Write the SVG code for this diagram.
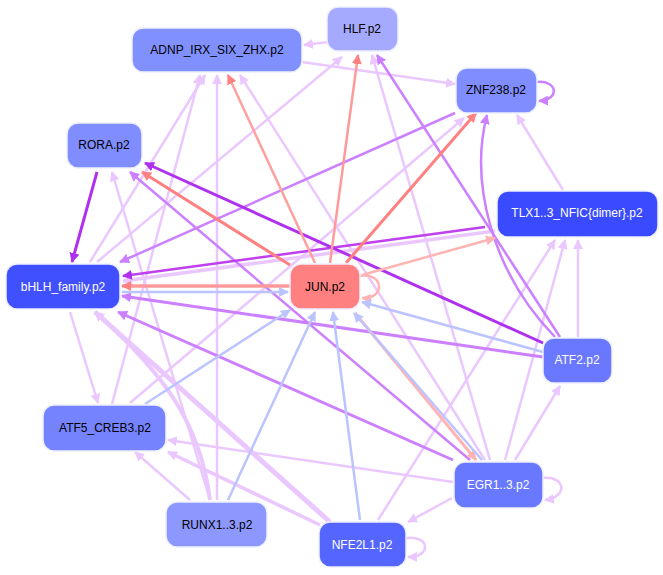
<svg xmlns="http://www.w3.org/2000/svg" width="663" height="575" viewBox="0 0 663 575">
<style>
.n rect{stroke:#eef0ff;stroke-width:1.5}
.n text{font-family:"Liberation Sans",Arial,sans-serif;font-size:12px;text-anchor:middle;dominant-baseline:central}
.w{fill:#fff}.k{fill:#000}
#e line,#e path{fill:none;stroke-width:2.5}
.L{stroke:#eac8ff}.V{stroke:#cc80ff}.S{stroke:#b030f0}.R{stroke:#ff8080}.P{stroke:#ffb4b4}.B{stroke:#bcc4ff}
</style>
<defs>
<marker id="mL" viewBox="0 0 10 10" refX="9" refY="5" markerWidth="10" markerHeight="10" markerUnits="userSpaceOnUse" orient="auto"><path d="M0,0L10,5L0,10z" fill="#eac8ff"/></marker>
<marker id="mV" viewBox="0 0 10 10" refX="9" refY="5" markerWidth="10" markerHeight="10" markerUnits="userSpaceOnUse" orient="auto"><path d="M0,0L10,5L0,10z" fill="#cc80ff"/></marker>
<marker id="mS" viewBox="0 0 10 10" refX="9" refY="5" markerWidth="10" markerHeight="10" markerUnits="userSpaceOnUse" orient="auto"><path d="M0,0L10,5L0,10z" fill="#b030f0"/></marker>
<marker id="mR" viewBox="0 0 10 10" refX="9" refY="5" markerWidth="10" markerHeight="10" markerUnits="userSpaceOnUse" orient="auto"><path d="M0,0L10,5L0,10z" fill="#ff8080"/></marker>
<marker id="mP" viewBox="0 0 10 10" refX="9" refY="5" markerWidth="10" markerHeight="10" markerUnits="userSpaceOnUse" orient="auto"><path d="M0,0L10,5L0,10z" fill="#ffb4b4"/></marker>
<marker id="mB" viewBox="0 0 10 10" refX="9" refY="5" markerWidth="10" markerHeight="10" markerUnits="userSpaceOnUse" orient="auto"><path d="M0,0L10,5L0,10z" fill="#bcc4ff"/></marker>
</defs>
<g id="e">
<line class="L" x1="328" y1="42" x2="304" y2="45" marker-end="url(#mL)"/>
<line class="L" x1="302" y1="62" x2="455" y2="84" marker-end="url(#mL)"/>
<path class="V" d="M537,82 C558,80 560,100 539,101" marker-end="url(#mV)"/>
<line class="L" x1="563" y1="190" x2="517" y2="115" marker-end="url(#mL)"/>
<line class="L" x1="578" y1="337" x2="578" y2="240" marker-end="url(#mL)"/>
<line class="L" x1="505" y1="460" x2="565" y2="240" marker-end="url(#mL)"/>
<line class="L" x1="515" y1="460" x2="560" y2="386" marker-end="url(#mL)"/>
<line class="L" x1="378" y1="520" x2="555" y2="240" marker-end="url(#mL)"/>
<line class="L" x1="90" y1="262" x2="205" y2="75" marker-end="url(#mL)"/>
<line class="L" x1="97" y1="262" x2="342" y2="57" marker-end="url(#mL)"/>
<line class="L" x1="130" y1="403" x2="464" y2="118" marker-end="url(#mL)"/>
<line class="L" x1="217" y1="500" x2="217" y2="75" marker-end="url(#mL)"/>
<line class="L" x1="210" y1="500" x2="112" y2="172" marker-end="url(#mL)"/>
<path class="L" style="stroke-width:4" d="M210,500 C200,420 160,370 95,312" marker-end="url(#mL)"/>
<line class="L" x1="112" y1="404" x2="200" y2="75" marker-end="url(#mL)"/>
<line class="L" x1="70" y1="312" x2="98" y2="403" marker-end="url(#mL)"/>
<line class="L" style="stroke-width:5" x1="330" y1="522" x2="95" y2="312" marker-end="url(#mL)"/>
<line class="L" style="stroke-width:3.5" x1="320" y1="525" x2="168" y2="452" marker-end="url(#mL)"/>
<line class="L" x1="453" y1="482" x2="168" y2="440" marker-end="url(#mL)"/>
<line class="L" x1="452" y1="498" x2="408" y2="522" marker-end="url(#mL)"/>
<path class="L" d="M543,478 C566,476 568,497 545,500" marker-end="url(#mL)"/>
<path class="L" d="M406,538 C430,535 432,557 408,557" marker-end="url(#mL)"/>
<line class="L" x1="490" y1="460" x2="372" y2="55" marker-end="url(#mL)"/>
<line class="L" x1="485" y1="460" x2="240" y2="75" marker-end="url(#mL)"/>
<line class="L" x1="190" y1="500" x2="135" y2="452" marker-end="url(#mL)"/>
<line class="L" style="stroke-width:3.5" x1="495" y1="231" x2="123" y2="281" marker-end="url(#mL)"/>
<line class="V" x1="455" y1="113" x2="120" y2="262" marker-end="url(#mV)"/>
<line class="V" style="stroke-width:3" x1="543" y1="357" x2="122" y2="296" marker-end="url(#mV)"/>
<line class="V" style="stroke-width:3" x1="453" y1="460" x2="118" y2="312" marker-end="url(#mV)"/>
<path class="V" d="M555,337 C490,270 470,180 487,115" marker-end="url(#mV)"/>
<line class="V" x1="560" y1="337" x2="377" y2="55" marker-end="url(#mV)"/>
<line class="V" x1="470" y1="460" x2="130" y2="172" marker-end="url(#mV)"/>
<line class="S" style="stroke:#c040f0" x1="485" y1="227" x2="123" y2="276" marker-end="url(#mS)"/>
<line class="S" style="stroke-width:3" x1="97" y1="172" x2="72" y2="262" marker-end="url(#mS)"/>
<line class="S" style="stroke-width:3" x1="543" y1="343" x2="145" y2="163" marker-end="url(#mS)"/>
<line class="R" style="stroke-width:3" x1="290" y1="265" x2="142" y2="172" marker-end="url(#mR)"/>
<line class="R" style="stroke:#ffa0a0" x1="315" y1="263" x2="228" y2="75" marker-end="url(#mR)"/>
<line class="R" style="stroke:#ff9a9a" x1="330" y1="263" x2="358" y2="55" marker-end="url(#mR)"/>
<line class="R" style="stroke-width:3" x1="346" y1="263" x2="476" y2="113" marker-end="url(#mR)"/>
<line class="P" x1="362" y1="275" x2="495" y2="238" marker-end="url(#mP)"/>
<path class="P" d="M360,276 C385,272 385,300 362,298" marker-end="url(#mP)"/>
<line class="R" style="stroke:#ff9a9a;stroke-width:3.5" x1="290" y1="286" x2="122" y2="286" marker-end="url(#mR)"/>
<line class="B" x1="122" y1="292" x2="288" y2="292" marker-end="url(#mB)"/>
<line class="B" x1="543" y1="352" x2="362" y2="302" marker-end="url(#mB)"/>
<line class="P" style="stroke-width:3" x1="355" y1="313" x2="476" y2="460" marker-end="url(#mP)"/>
<line class="B" x1="482" y1="460" x2="354" y2="313" marker-end="url(#mB)"/>
<line class="B" x1="228" y1="500" x2="315" y2="312" marker-end="url(#mB)"/>
<line class="B" x1="360" y1="520" x2="333" y2="312" marker-end="url(#mB)"/>
<line class="B" x1="145" y1="404" x2="290" y2="310" marker-end="url(#mB)"/>
</g>
<g id="HLF" class="n"><rect x="327" y="7" width="71" height="44" rx="11" fill="#a5aaff"/><text class="k" x="362" y="29">HLF.p2</text></g>
<g id="ADNP" class="n"><rect x="132" y="28" width="170" height="44" rx="11" fill="#8190ff"/><text class="k" x="217" y="50">ADNP_IRX_SIX_ZHX.p2</text></g>
<g id="ZNF238" class="n"><rect x="456" y="68" width="81" height="45" rx="11" fill="#7f8dff"/><text class="k" x="496" y="90">ZNF238.p2</text></g>
<g id="RORA" class="n"><rect x="67" y="123" width="75" height="45" rx="11" fill="#7f8dff"/><text class="k" x="104" y="145">RORA.p2</text></g>
<g id="TLX" class="n"><rect x="497" y="191" width="161" height="46" rx="11" fill="#3a4bff"/><text class="w" x="577" y="213">TLX1..3_NFIC{dimer}.p2</text></g>
<g id="bHLH" class="n"><rect x="6" y="264" width="114" height="45" rx="11" fill="#4050ff"/><text class="w" x="63" y="287">bHLH_family.p2</text></g>
<g id="JUN" class="n"><rect x="290" y="264" width="70" height="45" rx="11" fill="#ff8080"/><text class="k" x="325" y="287">JUN.p2</text></g>
<g id="ATF2" class="n"><rect x="543" y="338" width="69" height="45" rx="11" fill="#6a78ff"/><text class="w" x="577" y="360">ATF2.p2</text></g>
<g id="ATF5" class="n"><rect x="43" y="405" width="123" height="46" rx="11" fill="#7583ff"/><text class="k" x="105" y="428">ATF5_CREB3.p2</text></g>
<g id="EGR" class="n"><rect x="454" y="462" width="89" height="46" rx="11" fill="#6878ff"/><text class="w" x="498" y="485">EGR1..3.p2</text></g>
<g id="RUNX" class="n"><rect x="166" y="502" width="101" height="45" rx="11" fill="#8d98ff"/><text class="k" x="217" y="525">RUNX1..3.p2</text></g>
<g id="NFE2L1" class="n"><rect x="319" y="522" width="87" height="45" rx="11" fill="#5565ff"/><text class="w" x="362" y="545">NFE2L1.p2</text></g>
</svg>
